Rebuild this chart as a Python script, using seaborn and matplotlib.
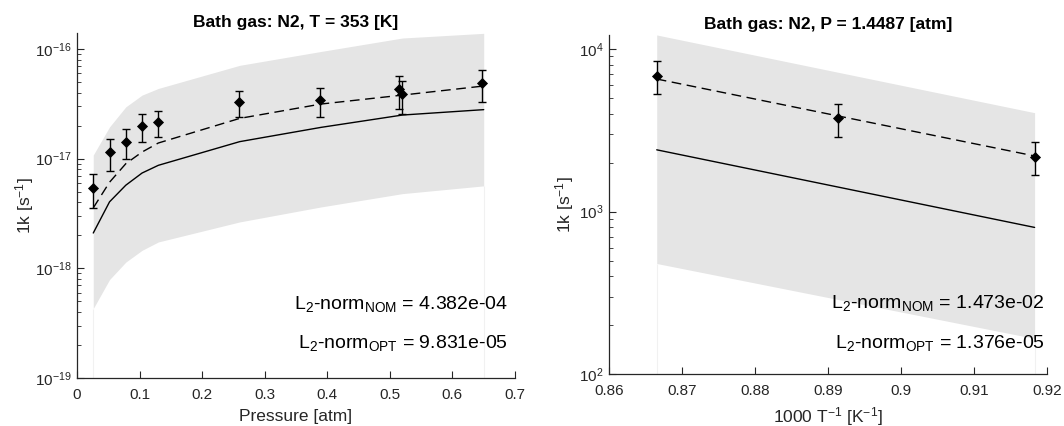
import numpy as np
import pandas as pd
import matplotlib
matplotlib.use("Agg")
import matplotlib.pyplot as plt
import seaborn as sns

# ---- pressure dependence at T = 353 K ----
p_exp = [0.026, 0.052, 0.078, 0.104, 0.130, 0.259, 0.388, 0.514, 0.519, 0.648]
k_exp = [5.4e-18, 1.14e-17, 1.43e-17, 2.0e-17, 2.14e-17, 3.28e-17, 3.4e-17, 4.28e-17, 3.85e-17, 4.86e-17]
k_exp_hi = [7.3e-18, 1.5e-17, 1.86e-17, 2.57e-17, 2.7e-17, 4.13e-17, 4.4e-17, 5.66e-17, 5.1e-17, 6.38e-17]
k_exp_lo = [3.56e-18, 7.8e-18, 1.0e-17, 1.42e-17, 1.57e-17, 2.41e-17, 2.41e-17, 2.83e-17, 2.55e-17, 3.3e-17]

p_model = [0.026, 0.052, 0.078, 0.104, 0.130, 0.260, 0.390, 0.520, 0.650]
k_opt_p = [3.56e-18, 6.1e-18, 9.0e-18, 1.15e-17, 1.39e-17, 2.33e-17, 3.15e-17, 3.8e-17, 4.6e-17]
k_nom_p = [2.1e-18, 4.04e-18, 5.73e-18, 7.4e-18, 8.7e-18, 1.43e-17, 1.93e-17, 2.5e-17, 2.8e-17]
k_band_hi_p = [1.08e-17, 1.95e-17, 2.97e-17, 3.8e-17, 4.37e-17, 7.1e-17, 9.5e-17, 1.26e-16, 1.39e-16]
k_band_lo_p = [4.3e-19, 7.9e-19, 1.14e-18, 1.46e-18, 1.74e-18, 2.65e-18, 3.63e-18, 4.8e-18, 5.65e-18]

# ---- temperature dependence at P = 1.4487 atm ----
invT_exp = [0.8665, 0.8913, 0.9183]
kT_exp = [6.85e3, 3.74e3, 2.17e3]
kT_exp_hi = [8.44e3, 4.6e3, 2.69e3]
kT_exp_lo = [5.26e3, 2.88e3, 1.68e3]

invT_model = [0.8665, 0.9183]
kT_opt = [6.54e3, 2.2e3]
kT_nom = [2.4e3, 800.0]
kT_band_hi = [1.22e4, 4.06e3]
kT_band_lo = [480.0, 166.0]

titles = ["Bath gas: N2, T = 353 [K]", "Bath gas: N2, P = 1.4487 [atm]"]
xlabels = ["Pressure [atm]", "1000 T$^{-1}$ [K$^{-1}$]"]
ylabel = "1k [s$^{-1}$]"
norms = [("4.382e-04", "9.831e-05"), ("1.473e-02", "1.376e-05")]

sns.set_style("ticks")
plt.rcParams["font.family"] = ["Liberation Sans", "DejaVu Sans"]
plt.rcParams["mathtext.fontset"] = "custom"
plt.rcParams["mathtext.rm"] = "Liberation Sans"
plt.rcParams["mathtext.it"] = "Liberation Sans"
plt.rcParams["mathtext.bf"] = "Liberation Sans:bold"
plt.rcParams["axes.unicode_minus"] = False

ink = "#262626"
band = "#e5e5e5"

W, H = 1064, 426
fig = plt.figure(figsize=(W / 100, H / 100), dpi=100)
axL = fig.add_axes([77 / W, (H - 378) / H, (515 - 77) / W, (378 - 33) / H])
axR = fig.add_axes([609.3 / W, (H - 374.3) / H, (1047 - 609.3) / W, (374.3 - 35) / H])


def draw(ax, x_m, lo, hi, k_nom, k_opt, x_e, k_e, e_lo, e_hi, ybottom):
    ax.fill_between(x_m, lo, hi, color=band, lw=0, zorder=1)
    # faint edges of the uncertainty patch down to the axis
    ax.vlines([x_m[0], x_m[-1]], ybottom, [lo[0], lo[-1]], color="#f1f1f1", lw=0.8, zorder=1)
    df = pd.DataFrame({"x": x_m, "nom": k_nom, "opt": k_opt})
    sns.lineplot(data=df, x="x", y="nom", ax=ax, color="black", lw=1.0, zorder=3)
    sns.lineplot(data=df, x="x", y="opt", ax=ax, color="black", lw=1.0,
                 zorder=3).lines[-1].set_dashes((7, 4))
    k_e = np.asarray(k_e)
    yerr = np.vstack([k_e - np.asarray(e_lo), np.asarray(e_hi) - k_e])
    ax.errorbar(x_e, k_e, yerr=yerr, fmt="none", ecolor="black", elinewidth=1.0,
                capsize=3, capthick=1.0, zorder=4)
    sns.scatterplot(x=x_e, y=k_e, ax=ax, marker="D", s=32, color="black",
                    edgecolor="black", linewidth=0, zorder=5)


yminL, ymaxL = 1e-19, 10 ** (-16 + 16 / 109.5)
yminR, ymaxR = 100, 10 ** (4 + 14 / 162.5)

draw(axL, p_model, k_band_lo_p, k_band_hi_p, k_nom_p, k_opt_p,
     p_exp, k_exp, k_exp_lo, k_exp_hi, yminL)
draw(axR, invT_model, kT_band_lo, kT_band_hi, kT_nom, kT_opt,
     invT_exp, kT_exp, kT_exp_lo, kT_exp_hi, yminR)

axL.set_yscale("log")
axL.set_xlim(0, 0.7)
axL.set_ylim(yminL, ymaxL)
axL.set_xticks(np.arange(0, 0.71, 0.1))
axL.set_xticklabels(["0", "0.1", "0.2", "0.3", "0.4", "0.5", "0.6", "0.7"])
axL.set_yticks([1e-19, 1e-18, 1e-17, 1e-16])

axR.set_yscale("log")
axR.set_xlim(0.86, 0.92)
axR.set_ylim(yminR, ymaxR)
axR.set_xticks(np.round(np.arange(0.86, 0.9201, 0.01), 2))
axR.set_xticklabels(["0.86", "0.87", "0.88", "0.89", "0.9", "0.91", "0.92"])
axR.set_yticks([1e2, 1e3, 1e4])

ylabel_pads = [-1, 2]
text_x = [0.985, 0.995]
text_y = [(0.2134, 0.102), (0.2103, 0.0932)]

for i, ax in enumerate([axL, axR]):
    sns.despine(ax=ax)
    for s in ("left", "bottom"):
        ax.spines[s].set_color(ink)
        ax.spines[s].set_linewidth(0.9)
    ax.tick_params(which="major", direction="in", length=5, width=0.8,
                   colors=ink, labelsize=11)
    ax.tick_params(which="minor", direction="in", length=3, width=0.6, colors=ink)
    ax.tick_params(axis="x", pad=7)
    ax.tick_params(axis="y", pad=4)
    ax.set_title(titles[i], fontsize=12.5, fontweight="bold", color="black", pad=4)
    ax.set_xlabel(xlabels[i], fontsize=12.5, color=ink, labelpad=5)
    ax.set_ylabel(ylabel, fontsize=12.5, color=ink, labelpad=ylabel_pads[i])
    nom, opt = norms[i]
    ax.text(text_x[i], text_y[i][0], r"L$_2$-norm$_{\mathrm{NOM}}$ = " + nom,
            transform=ax.transAxes, ha="right", va="center", fontsize=14, color="black")
    ax.text(text_x[i], text_y[i][1], r"L$_2$-norm$_{\mathrm{OPT}}$ = " + opt,
            transform=ax.transAxes, ha="right", va="center", fontsize=14, color="black")

fig.savefig("out.png", dpi=100, facecolor="white")
